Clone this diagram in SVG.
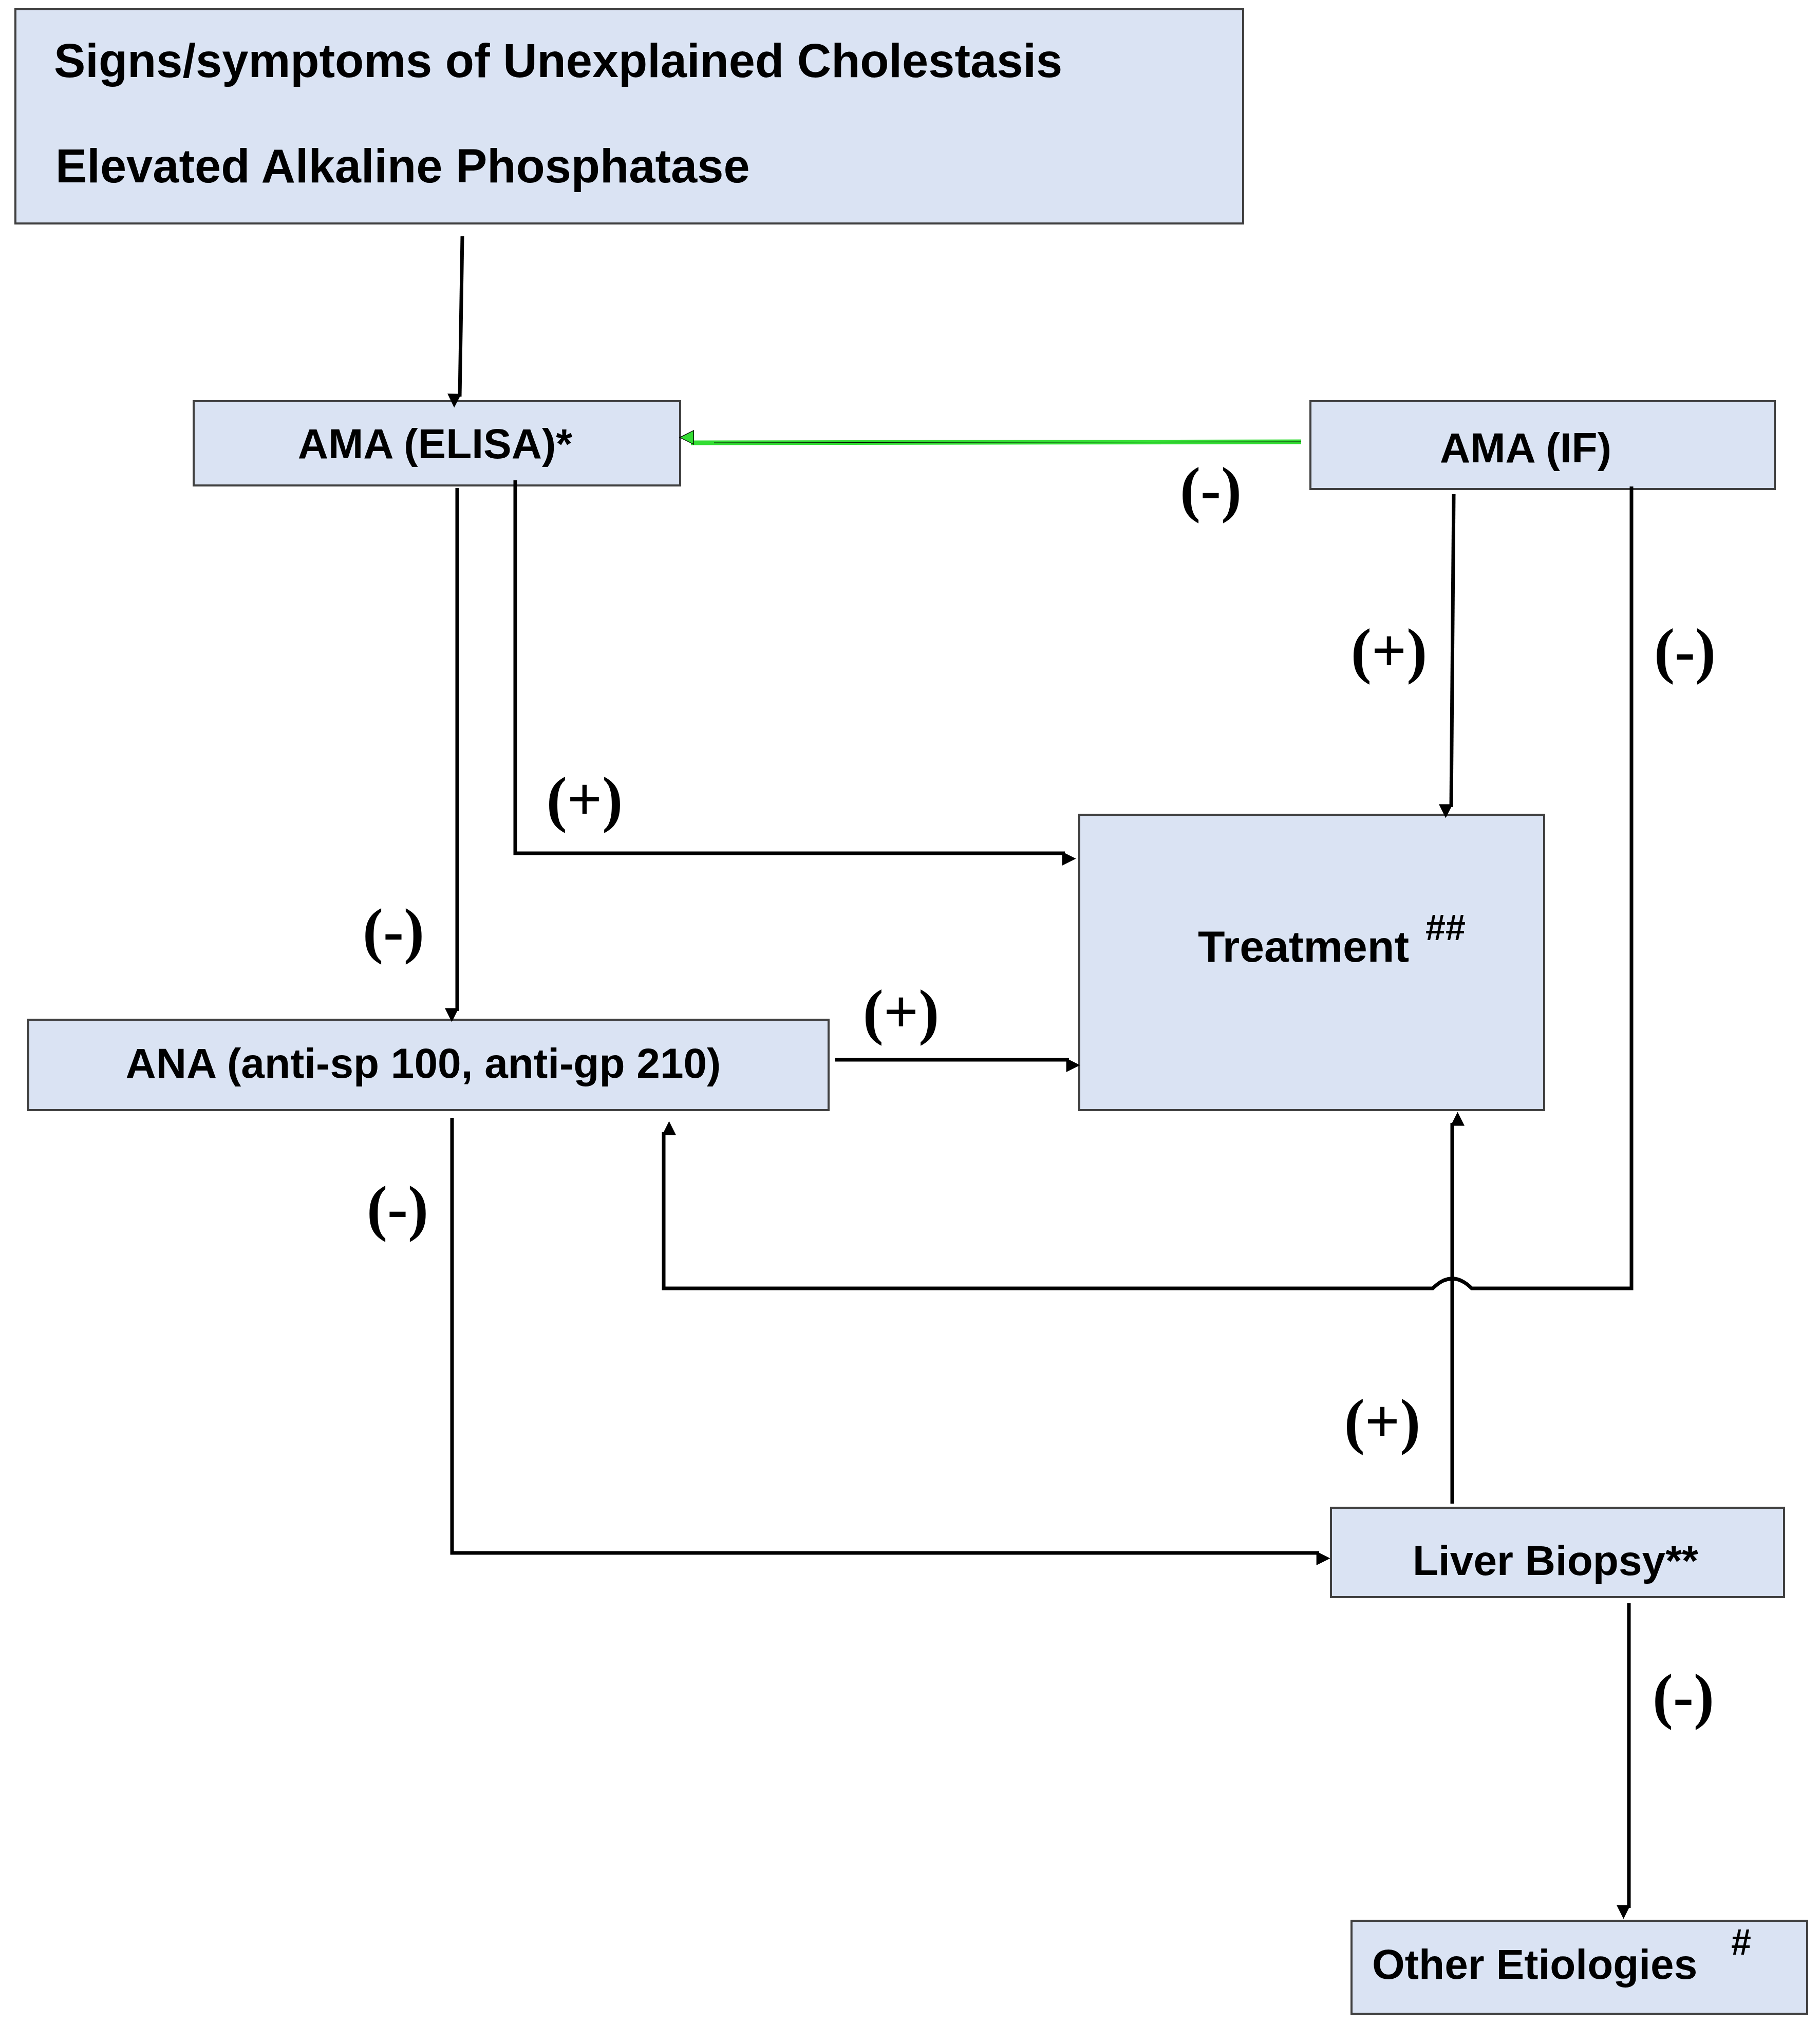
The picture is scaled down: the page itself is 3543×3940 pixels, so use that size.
<svg xmlns="http://www.w3.org/2000/svg" width="3543" height="3940" viewBox="0 0 3543 3940">
<style>
.box{fill:#dae3f3;stroke:#404040;stroke-width:4}
.t{font-family:"Liberation Sans",Arial,sans-serif;font-weight:bold;fill:#000}
.c{fill:none;stroke:#000;stroke-width:7}
.l{font-family:"Liberation Serif","Times New Roman",serif;font-weight:bold;font-size:120px;text-anchor:middle}
</style>
<defs>
<marker id="a" viewBox="0 0 10 10" refX="9" refY="5" markerWidth="6" markerHeight="6" orient="auto" markerUnits="userSpaceOnUse" style="overflow:visible"><path d="M0,0 L10,5 L0,10 z" fill="#000" transform="scale(4.5)"/></marker>
<marker id="g" viewBox="0 0 10 10" refX="9" refY="5" markerWidth="6" markerHeight="6" orient="auto" markerUnits="userSpaceOnUse" style="overflow:visible"><path d="M0,0 L10,5 L0,10 z" fill="#33dd33" stroke="#000" stroke-width="0.5" transform="scale(4.5)"/></marker>
</defs>
<rect width="3543" height="3940" fill="#fff"/>
<g id="n-top"><rect class="box" x="30" y="18" width="2390" height="417"/>
<text class="t" x="105" y="150" font-size="92">Signs/symptoms of Unexplained Cholestasis</text>
<text class="t" x="108" y="355" font-size="92">Elevated Alkaline Phosphatase</text></g>
<g id="n-elisa"><rect class="box" x="377" y="781" width="947" height="164"/>
<text class="t" x="847" y="892" font-size="82" text-anchor="middle">AMA (ELISA)*</text></g>
<g id="n-if"><rect class="box" x="2551" y="781" width="904" height="171"/>
<text class="t" x="2970" y="900" font-size="82" text-anchor="middle">AMA (IF)</text></g>
<g id="n-treat"><rect class="box" x="2101" y="1586" width="905" height="575"/>
<text class="t" x="2332" y="1872" font-size="86">Treatment</text>
<text class="t" x="2775" y="1830" font-size="70">##</text></g>
<g id="n-ana"><rect class="box" x="55" y="1985" width="1558" height="176"/>
<text class="t" x="824" y="2098" font-size="82" text-anchor="middle">ANA (anti-sp 100, anti-gp 210)</text></g>
<g id="n-biopsy"><rect class="box" x="2591" y="2935" width="882" height="174"/>
<text class="t" x="3028" y="3066" font-size="82" text-anchor="middle">Liver Biopsy**</text></g>
<g id="n-other"><rect class="box" x="2631" y="3739" width="887" height="181"/>
<text class="t" x="2671" y="3852" font-size="82">Other Etiologies</text>
<text class="t" x="3370" y="3805" font-size="70">#</text></g>
<g id="connectors">
<path class="c" d="M900,460 L895,772" marker-end="url(#a)"/>
<path d="M2533,860 L1345,862" fill="none" stroke="#33dd33" stroke-width="9" marker-end="url(#g)"/>
<path d="M2533,860 L1390,862" fill="none" stroke="#000" stroke-width="1"/>
<path class="c" d="M890,950 L890,1968" marker-end="url(#a)"/>
<path class="c" d="M1003,935 L1003,1661 L2073,1661" marker-end="url(#a)"/>
<path class="c" d="M1626,2063 L2081,2063" marker-end="url(#a)"/>
<path class="c" d="M880,2176 L880,3023 L2568,3023" marker-end="url(#a)"/>
<path class="c" d="M2830,962 L2825,1571" marker-end="url(#a)"/>
<path class="c" d="M3176,947 L3176,2508 L2865,2508 Q2827,2470 2789,2508 L1292,2508 L1292,2204" marker-end="url(#a)"/>
<path class="c" d="M2827,2927 L2827,2186" marker-end="url(#a)"/>
<path class="c" d="M3171,3121 L3171,3714" marker-end="url(#a)"/>
</g>
<g id="labels">
<text class="l" x="2357" y="993">(-)</text>
<text class="l" x="2704" y="1307">(+)</text>
<text class="l" x="3280" y="1307">(-)</text>
<text class="l" x="1138" y="1596">(+)</text>
<text class="l" x="766" y="1852">(-)</text>
<text class="l" x="1754" y="2010">(+)</text>
<text class="l" x="774" y="2392">(-)</text>
<text class="l" x="2691" y="2807">(+)</text>
<text class="l" x="3277" y="3342">(-)</text>
</g>
</svg>
